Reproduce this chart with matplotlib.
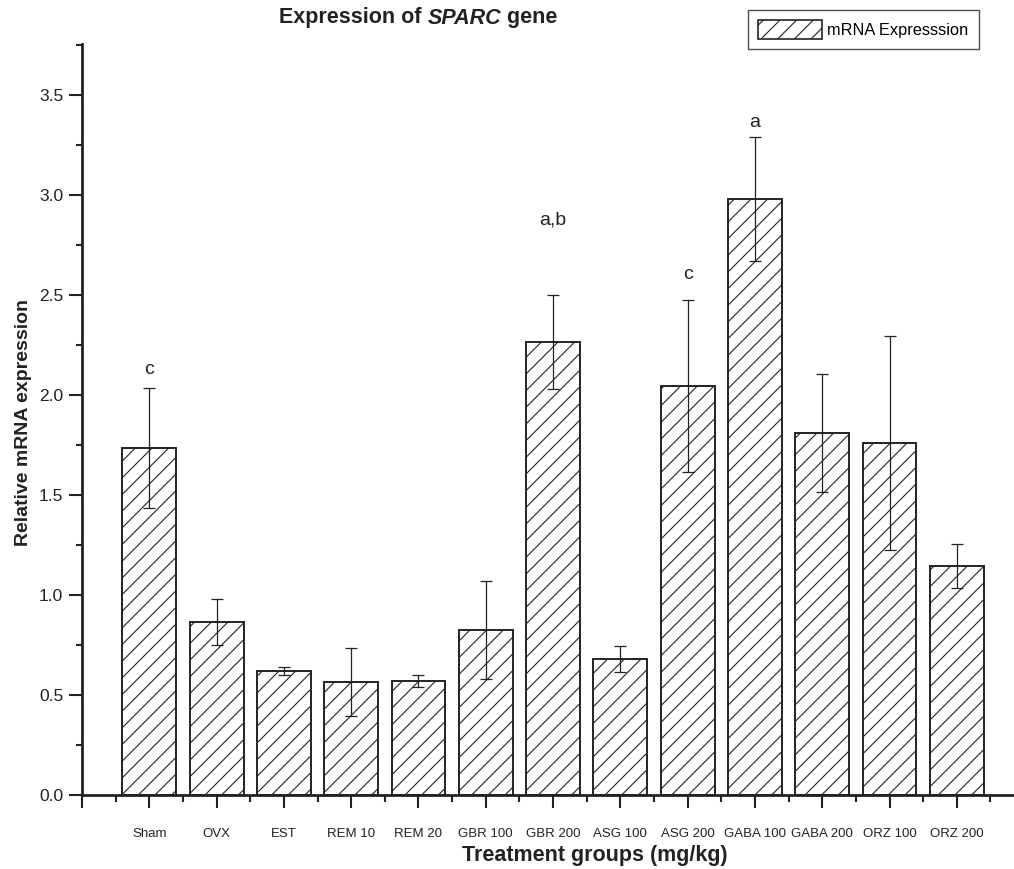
import matplotlib
matplotlib.use("Agg")
import matplotlib.pyplot as plt
from matplotlib.ticker import MultipleLocator, FormatStrFormatter
from matplotlib.patches import Patch

plt.rcParams['font.family'] = ['Liberation Sans', 'DejaVu Sans']
plt.rcParams['hatch.linewidth'] = 0.8

groups = ['Sham', 'OVX', 'EST', 'REM 10', 'REM 20', 'GBR 100', 'GBR 200',
          'ASG 100', 'ASG 200', 'GABA 100', 'GABA 200', 'ORZ 100', 'ORZ 200']
expr = [1.735, 0.865, 0.62, 0.565, 0.57, 0.825, 2.265,
        0.68, 2.045, 2.98, 1.81, 1.76, 1.145]
err = [0.30, 0.115, 0.02, 0.17, 0.03, 0.245, 0.235,
       0.065, 0.43, 0.31, 0.295, 0.535, 0.11]
# significance letters: group index, label, y position
sig_idx = [0, 6, 8, 9]
sig_txt = ['c', 'a,b', 'c', 'a']
sig_y = [2.125, 2.875, 2.6, 3.36]

W, H = 1014, 869
ink = '#222222'
fig = plt.figure(figsize=(W/100, H/100), dpi=100)
ax = fig.add_axes([82/W, 74/H, 1 - 82/W, (795-44)/H])

xs = list(range(1, len(groups) + 1))
ax.bar(xs, expr, width=0.8, color='white', edgecolor=ink,
       linewidth=1.4, hatch='//', zorder=2)
ax.errorbar(xs, expr, yerr=err, fmt='none', ecolor=ink,
            elinewidth=0.9, capsize=4.5, capthick=0.9, zorder=3)

for i, t, y in zip(sig_idx, sig_txt, sig_y):
    ax.text(xs[i], y, t, ha='center', va='center', fontsize=14, color=ink)

ax.set_xlim(0, 13.85)
ax.set_ylim(0, 3.755)
ax.set_xticks([0] + xs)
ax.set_xticklabels([''] + groups, fontsize=9.5)
ax.xaxis.set_minor_locator(MultipleLocator(0.5))
ax.yaxis.set_major_locator(MultipleLocator(0.5))
ax.yaxis.set_minor_locator(MultipleLocator(0.25))
ax.yaxis.set_major_formatter(FormatStrFormatter('%.1f'))
ax.tick_params(axis='both', which='major', direction='out', length=9.5,
               width=1.5, color=ink, labelcolor=ink)
ax.tick_params(axis='y', which='minor', direction='out', length=4,
               width=1.5, color=ink)
ax.tick_params(axis='x', which='minor', direction='out', length=5,
               width=1.5, color=ink)
ax.tick_params(axis='x', which='major', pad=14)
ax.tick_params(axis='y', which='major', labelsize=12.5, pad=4)

for s in ['top', 'right']:
    ax.spines[s].set_visible(False)
for s in ['left', 'bottom']:
    ax.spines[s].set_linewidth(2)
    ax.spines[s].set_color(ink)

fig.text(24/W, 1 - 423/H, 'Relative mRNA expression', rotation=90,
         ha='center', va='center', fontsize=14, fontweight='bold', color=ink)
fig.text(595/W, 1 - 855/H, 'Treatment groups (mg/kg)', ha='center',
         va='center', fontsize=15.5, fontweight='bold', color=ink)

# title built from pieces so that SPARC is bold italic
renderer = fig.canvas.get_renderer()
pieces = [('Expression of ', 'normal'), ('SPARC', 'italic'), (' gene', 'normal')]
texts = []
total = 0
for s, st in pieces:
    t = fig.text(0, 1 - 18/H, s, ha='left', va='center', fontsize=15.5,
                 fontweight='bold', style=st, color=ink)
    texts.append(t)
    total += t.get_window_extent(renderer).width
x0 = 418 - total / 2
for t in texts:
    t.set_x(x0 / W)
    x0 += t.get_window_extent(renderer).width

leg = fig.legend(handles=[Patch(facecolor='white', edgecolor=ink, hatch='//',
                                linewidth=1.2, label='mRNA Expresssion')],
                 loc='upper left', bbox_to_anchor=(748/W, 1 - 10/H),
                 fontsize=11.8, frameon=True, fancybox=False, handlelength=3.9,
                 handleheight=1.4, borderpad=0.6, borderaxespad=0,
                 handletextpad=0.35)
leg.get_frame().set_edgecolor(ink)
leg.get_frame().set_linewidth(1.0)
# widen the frame to the right like the reference box
fr = leg.get_frame()
fig.canvas.draw()
fr.set_width(983 - 748)

fig.savefig('out.png', dpi=100)
